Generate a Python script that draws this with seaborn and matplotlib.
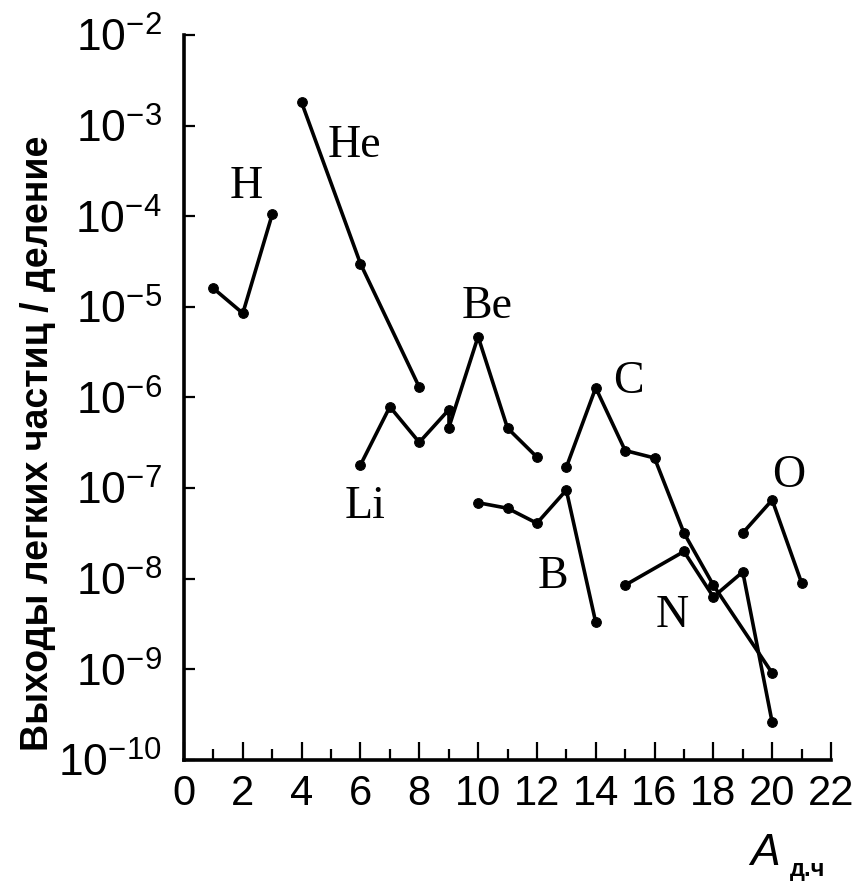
import matplotlib
matplotlib.use("Agg")
import matplotlib.pyplot as plt
import seaborn as sns
from matplotlib import font_manager

# Light-particle yields per fission versus mass number of the fragment
h_A = [1, 2, 3]
h_y = [1.6e-5, 8.5e-6, 1.05e-4]
he_A = [4, 6, 8]
he_y = [1.8e-3, 3.0e-5, 1.3e-6]
li_A = [6, 7, 8, 9]
li_y = [1.8e-7, 7.9e-7, 3.2e-7, 7.3e-7]
be_A = [9, 10, 11, 12]
be_y = [4.6e-7, 4.7e-6, 4.6e-7, 2.2e-7]
b_A = [10, 11, 12, 13, 14]
b_y = [6.9e-8, 6.0e-8, 4.1e-8, 9.5e-8, 3.3e-9]
c_A = [13, 14, 15, 16, 17, 18, 20]
c_y = [1.7e-7, 1.28e-6, 2.6e-7, 2.15e-7, 3.2e-8, 8.5e-9, 9.1e-10]
n_A = [15, 17, 18, 19, 20]
n_y = [8.5e-9, 2.0e-8, 6.3e-9, 1.19e-8, 2.6e-10]
o_A = [19, 20, 21]
o_y = [3.2e-8, 7.4e-8, 9.0e-9]

elements = ["H", "He", "Li", "Be", "B", "C", "N", "O"]
x_ticks = list(range(0, 23, 2))
y_exponents = list(range(-10, -1))

# where each element symbol sits (x = A, y = yield at the text baseline)
label_pos = {
    "H": (2.1, 1.6e-4),
    "He": (5.8, 4.5e-4),
    "Be": (10.3, 7.6e-6),
    "Li": (6.15, 4.7e-8),
    "C": (15.1, 1.12e-6),
    "B": (12.55, 7.9e-9),
    "N": (16.6, 2.94e-9),
    "O": (20.55, 1.03e-7),
}


def pick_font(candidates):
    for name in candidates:
        try:
            font_manager.findfont(name, fallback_to_default=False)
            return name
        except Exception:
            continue
    return "DejaVu Sans"


sns.set_style("ticks")
narrow = pick_font(["Liberation Sans Narrow", "Liberation Sans", "DejaVu Sans"])
serif = pick_font(["Liberation Serif", "DejaVu Serif"])
plt.rcParams["font.family"] = [narrow, "DejaVu Sans"]
plt.rcParams["mathtext.fontset"] = "custom"
plt.rcParams["mathtext.rm"] = narrow
plt.rcParams["mathtext.it"] = narrow + ":italic"
plt.rcParams["mathtext.bf"] = narrow + ":bold"
plt.rcParams["text.color"] = "black"
plt.rcParams["xtick.color"] = "black"
plt.rcParams["ytick.color"] = "black"
plt.rcParams["axes.edgecolor"] = "black"

W, H = 866, 882
fig = plt.figure(figsize=(W / 100, H / 100), dpi=100)
ax = fig.add_axes([184 / W, (H - 760) / H, (831 - 184) / W, (760 - 35) / H])

series = [
    (h_A, h_y), (he_A, he_y), (li_A, li_y), (be_A, be_y),
    (b_A, b_y), (c_A, c_y), (n_A, n_y), (o_A, o_y),
]
line_kw = dict(color="black", linewidth=2.6, marker="o", markersize=7,
               markeredgecolor="black", markerfacecolor="black")
for xs, ys in series:
    sns.lineplot(x=xs, y=ys, ax=ax, sort=False, estimator=None, **line_kw)

# the lithium chain runs on into the beryllium chain
sns.lineplot(x=[li_A[-1], be_A[0]], y=[li_y[-1], be_y[0]], ax=ax,
             sort=False, estimator=None, color="black", linewidth=2.6)

ax.set_yscale("log")
ax.set_xlim(0, 22)
ax.set_ylim(1e-10, 1e-2)

for name in elements:
    x, y = label_pos[name]
    ax.text(x, y, name, family=serif, fontsize=33, ha="center",
            va="baseline", color="black")

ax.set_xticks(x_ticks)
ax.set_xticks(range(0, 23), minor=True)
ax.set_xticklabels([str(v) for v in x_ticks], fontsize=30)
ax.set_yticks([10.0 ** e for e in y_exponents])
ax.set_yticklabels([r"$10^{-%d}$" % (-e) for e in y_exponents], fontsize=32)
ax.yaxis.set_minor_locator(matplotlib.ticker.NullLocator())

ax.tick_params(axis="x", which="major", direction="in", length=13, width=1.6,
               pad=10, colors="black")
ax.tick_params(axis="x", which="minor", direction="in", length=8, width=1.6,
               colors="black")
ax.tick_params(axis="y", which="major", direction="in", length=8, width=1.6,
               pad=16, colors="black")

for side in ("top", "right"):
    ax.spines[side].set_visible(False)
for side in ("left", "bottom"):
    ax.spines[side].set_linewidth(2.6)
    ax.spines[side].set_color("black")

fig.text(38 / W, 1 - 443 / H, "Выходы легких частиц / деление", rotation=90,
         ha="center", va="center", fontsize=27, fontweight="bold")
fig.text(765 / W, 1 - 865 / H, "A", fontsize=32, style="italic",
         ha="center", va="baseline")
fig.text(808 / W, 1 - 876 / H, "д.ч", fontsize=17, fontweight="bold",
         ha="center", va="baseline")

fig.savefig("out.png", dpi=100)
